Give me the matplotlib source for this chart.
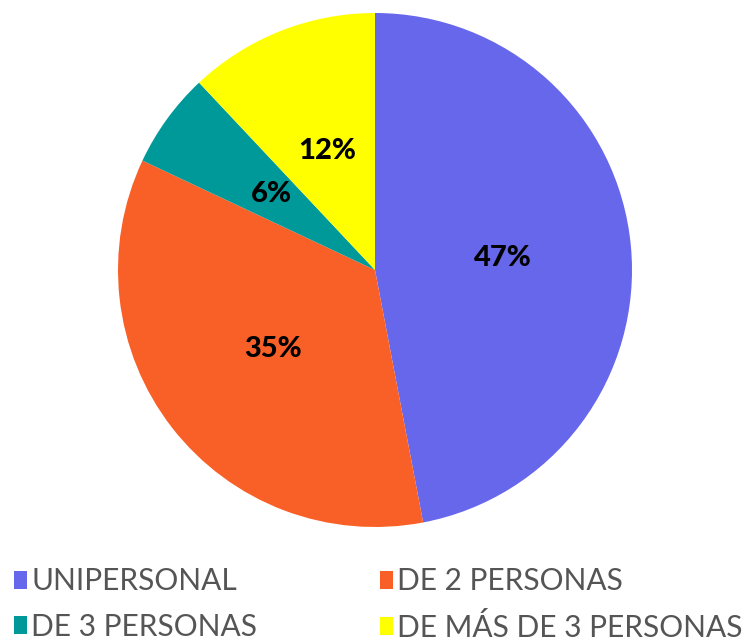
import matplotlib
matplotlib.use("Agg")
import matplotlib.pyplot as plt
from matplotlib.patches import Patch

categories = ["UNIPERSONAL", "DE 2 PERSONAS", "DE 3 PERSONAS", "DE MÁS DE 3 PERSONAS"]
shares = [47, 35, 6, 12]
colors = ["#6767EB", "#F96027", "#009999", "#FFFF00"]

fig = plt.figure(figsize=(7.5, 6.44), dpi=100)
ax = fig.add_axes([118 / 750, (644 - 527) / 644, 514 / 750, 514 / 644])

wedges, texts, autotexts = ax.pie(
    shares, colors=colors, startangle=90, counterclock=False,
    autopct="%d%%", pctdistance=0.5, radius=1,
    wedgeprops={"linewidth": 0},
    textprops={"fontsize": 21, "fontweight": "black", "family": "Lato", "color": "black"},
)
ax.set_xlim(-1, 1)
ax.set_ylim(-1, 1)
ax.set_aspect("equal")
ax.axis("off")

# legend fills column-wise, so reorder to get rows like the original
order = [0, 2, 1, 3]
handles = [Patch(facecolor=colors[i], edgecolor="none") for i in order]
labels = [categories[i] for i in order]
fig.legend(handles, labels, loc="upper left", bbox_to_anchor=(14 / 750, 0.119),
           ncol=2, frameon=False, borderpad=0, borderaxespad=0,
           handlelength=0.45, handleheight=0.55,
           handletextpad=0.13, columnspacing=4.1, labelspacing=0.58,
           prop={"family": "Lato", "size": 21.5}, labelcolor="#555555")

fig.savefig("out.png", dpi=100)
